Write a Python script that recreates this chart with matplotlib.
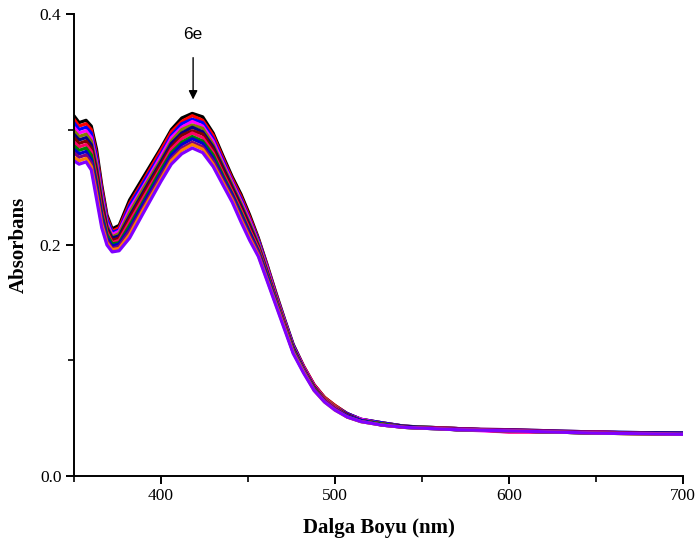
import matplotlib
matplotlib.use('Agg')
import matplotlib.pyplot as plt
from matplotlib.ticker import MultipleLocator

# wavelength grid (nm) the curves were read at
wl = [350, 353, 357, 360, 363, 366, 369, 372, 376, 382, 390, 400,
      406, 412, 418, 424, 430, 436, 441, 446, 451, 456, 461, 466, 471, 476,
      482, 488, 494, 500, 507, 515, 527, 540, 570, 600, 650, 700]

# absorbance curves, top to bottom
a01 = [.312, .306, .308, .303, .283, .252, .226, .214, .217, .239, .259, .284,
       .300, .310, .314, .311, .297, .276, .259, .244, .226, .206, .183, .159, .136, .114, .095, .079, .068, .061, .054, .049, .046, .043, .041, .039, .038, .036]
a02 = [.309, .303, .305, .300, .279, .249, .224, .212, .215, .236, .256, .282,
       .298, .307, .312, .308, .295, .274, .257, .242, .224, .205, .182, .158, .135, .113, .095, .079, .068, .061, .054, .049, .046, .043, .040, .040, .037, .036]
a03 = [.306, .300, .302, .297, .276, .246, .222, .211, .213, .234, .254, .279,
       .295, .305, .309, .306, .292, .272, .255, .240, .222, .204, .181, .157, .135, .113, .094, .078, .067, .060, .054, .049, .046, .043, .041, .039, .038, .037]
a04 = [.302, .297, .299, .293, .272, .243, .219, .209, .212, .231, .251, .277,
       .293, .302, .307, .303, .290, .270, .254, .238, .221, .202, .180, .156, .134, .112, .094, .078, .067, .060, .053, .049, .045, .043, .040, .038, .038, .036]
a05 = [.299, .294, .296, .290, .269, .240, .217, .207, .210, .228, .249, .274,
       .290, .300, .304, .301, .287, .268, .252, .236, .219, .201, .178, .155, .133, .111, .093, .077, .067, .060, .053, .048, .045, .043, .041, .039, .037, .036]
a06 = [.296, .291, .293, .287, .265, .237, .215, .206, .208, .225, .246, .272,
       .288, .297, .302, .298, .285, .266, .250, .234, .217, .199, .177, .154, .132, .111, .093, .077, .066, .059, .053, .048, .045, .043, .040, .040, .038, .037]
a07 = [.293, .288, .290, .284, .262, .234, .213, .204, .206, .223, .244, .270,
       .285, .295, .299, .296, .283, .264, .248, .232, .215, .198, .176, .154, .132, .110, .092, .077, .066, .059, .053, .048, .045, .042, .041, .039, .037, .037]
a08 = [.289, .285, .287, .281, .258, .230, .211, .202, .204, .220, .241, .267,
       .283, .292, .297, .293, .280, .261, .246, .230, .213, .197, .175, .153, .131, .109, .092, .076, .066, .059, .052, .048, .045, .042, .041, .038, .038, .036]
a09 = [.286, .282, .284, .278, .254, .227, .209, .201, .202, .217, .238, .265,
       .280, .289, .294, .290, .278, .259, .244, .228, .211, .195, .174, .152, .130, .109, .091, .076, .065, .058, .052, .048, .045, .042, .040, .039, .037, .036]
a10 = [.283, .279, .281, .274, .251, .224, .206, .199, .201, .214, .236, .262,
       .278, .287, .292, .288, .275, .257, .243, .226, .210, .194, .173, .151, .129, .108, .091, .075, .065, .058, .052, .048, .044, .042, .040, .039, .037, .037]
a11 = [.280, .276, .278, .271, .247, .221, .204, .197, .199, .212, .233, .260,
       .275, .284, .289, .285, .273, .255, .241, .224, .208, .193, .171, .150, .129, .107, .090, .075, .065, .058, .051, .047, .044, .042, .041, .040, .038, .036]
a12 = [.276, .273, .275, .268, .244, .218, .202, .196, .197, .209, .231, .257,
       .273, .282, .287, .283, .270, .253, .239, .222, .206, .191, .170, .149, .128, .107, .090, .074, .064, .057, .051, .047, .044, .042, .040, .039, .037, .036]
a13 = [.273, .270, .272, .265, .240, .215, .200, .194, .195, .206, .228, .255,
       .270, .279, .284, .280, .268, .251, .237, .220, .204, .190, .169, .148, .127, .106, .089, .074, .064, .057, .051, .047, .044, .042, .040, .039, .037, .036]

curves = [a01, a02, a03, a04, a05, a06, a07, a08, a09, a10, a11, a12, a13]
colors = ['black', '#FF0000', '#0000FF', '#FF00FF', '#808000', '#000080', '#800000',
          '#FF0066', '#008000', '#0000CD', '#800080', '#FF8000', '#8000FF']

fig = plt.figure(figsize=(6.97, 5.42), dpi=100)
ax = fig.add_axes([0.106, 0.122, 0.874, 0.852])

# top curve first, later ones drawn over it (violet ends on top)
for y, c in zip(curves, colors):
    ax.plot(wl, y, color=c, lw=2.3, solid_joinstyle='round', solid_capstyle='round')

ax.set_xlim(350, 700)
ax.set_ylim(0, 0.4)
ax.xaxis.set_minor_locator(MultipleLocator(50))
ax.yaxis.set_minor_locator(MultipleLocator(0.1))
ax.set_yticks([0.0, 0.2, 0.4], ['0.0', '0.2', '0.4'])
ax.set_xticks([400, 500, 600, 700], ['400', '500', '600', '700'])

for s in ['top', 'right']:
    ax.spines[s].set_visible(False)
for s in ['left', 'bottom']:
    ax.spines[s].set_linewidth(1.4)

ax.tick_params(which='major', direction='out', length=6, width=1.4,
               labelsize=12.5, pad=3)
ax.tick_params(which='minor', direction='out', length=4, width=1.2)
for lab in ax.get_xticklabels() + ax.get_yticklabels():
    lab.set_fontfamily('Liberation Serif')

ax.set_xlabel('Dalga Boyu (nm)', fontsize=15, fontweight='bold',
              fontfamily='Liberation Serif', labelpad=10)
ax.set_ylabel('Absorbans', fontsize=15, fontweight='bold',
              fontfamily='Liberation Serif', labelpad=8)

ax.annotate('6e', xy=(418.5, 0.326), xytext=(418.5, 0.382),
            ha='center', va='center', fontsize=12.5, fontfamily='Liberation Sans',
            arrowprops=dict(arrowstyle='-|>', color='black', lw=1,
                            mutation_scale=13, shrinkA=9, shrinkB=0))

fig.savefig('out.png', dpi=100)
